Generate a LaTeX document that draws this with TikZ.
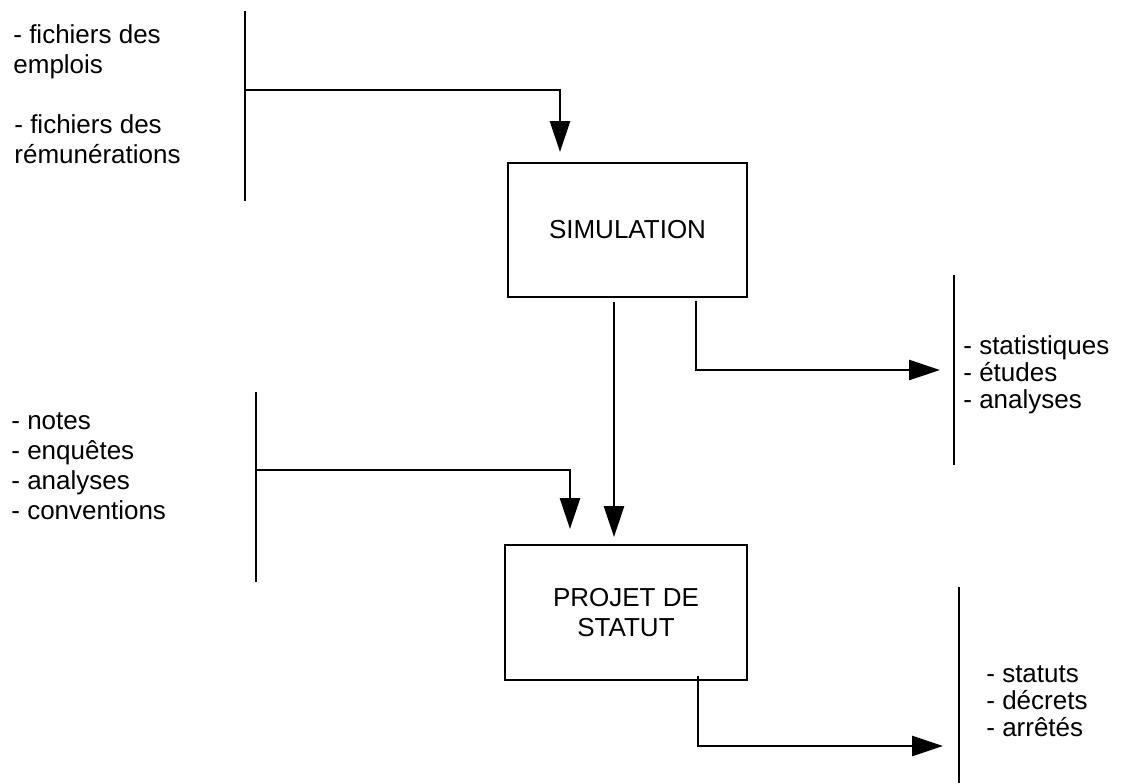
\documentclass[tikz,border=0pt]{standalone}
\usepackage{fontspec}
\setmainfont{Liberation Sans}
\usetikzlibrary{arrows.meta}
\begin{document}
\begin{tikzpicture}[x=0.5pt,y=-0.5pt,
  line width=1.4pt,
  arr/.style={-{Triangle[length=15.5pt,width=10pt]}},
  procbox/.style={draw, line width=1.4pt, inner sep=0pt, align=center,
    font=\fontsize{13}{15}\selectfont},
  lbl/.style={anchor=north west, inner sep=0pt, align=left,
    font=\fontsize{13}{15}\selectfont},
  rlbl/.style={anchor=north west, inner sep=0pt, align=left,
    font=\fontsize{13}{13.5}\selectfont}
]
\useasboundingbox (0,0) rectangle (1126,783);

% process boxes
\node[procbox, minimum width=119.5pt, minimum height=67pt] (sim) at (627.5,230) {SIMULATION};
\node[procbox, minimum width=121pt, minimum height=67.5pt] (proj) at (626,612.5) {PROJET DE\\STATUT};

% bars
\coordinate (b1t) at (245,11);  \coordinate (b1b) at (245,201); \coordinate (b1m) at (245,90);
\coordinate (b2t) at (256,392); \coordinate (b2b) at (256,582); \coordinate (b2m) at (256,470);
\coordinate (b3t) at (954,275); \coordinate (b3b) at (954,465);
\coordinate (b4t) at (959,587); \coordinate (b4b) at (959,783);
\draw (b1t) -- (b1b);
\draw (b2t) -- (b2b);
\draw (b3t) -- (b3b);
\draw (b4t) -- (b4b);

% connector ends
\coordinate (a1) at (560,152);
\coordinate (a2) at (570,529);
\coordinate (s1) at (614,302); \coordinate (p1) at (614,537);
\coordinate (s2) at (696,301); \coordinate (a3) at (940,370);
\coordinate (p2) at (698,676); \coordinate (a4) at (943,746);

\draw[arr] (b1m) -| (a1);
\draw[arr] (b2m) -| (a2);
\draw[arr] (s1) -- (p1);
\draw[arr] (s2) |- (a3);
\draw[arr] (p2) |- (a4);

% labels
\node[lbl] (t1) at (12,23) {- fichiers des\\emplois};
\node[lbl] (t2) at (13,113) {- fichiers des\\rémunérations};
\node[lbl] (t3) at (10,411) {- notes\\- enquêtes\\- analyses\\- conventions};
\node[rlbl] (t4) at (962,334) {- statistiques\\- études\\- analyses};
\node[rlbl] (t5) at (985,664) {- statuts\\- décrets\\- arrêtés};
\end{tikzpicture}
\end{document}
